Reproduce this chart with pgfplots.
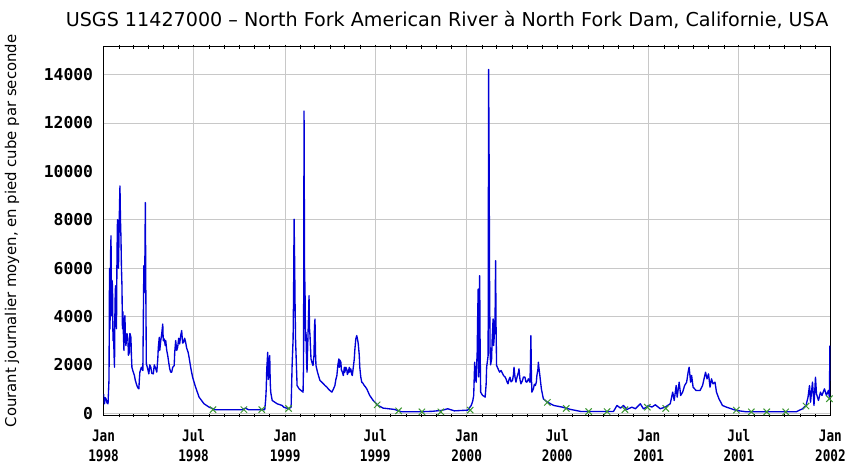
\documentclass[border=0pt]{standalone}
\usepackage{fontspec}
\setmainfont{DejaVu Sans}
\newfontfamily\tickfont{DejaVu Sans Mono}
\newfontfamily\xtickfont[FakeStretch=0.8]{DejaVu Sans Mono}
\usepackage{pgfplots}
\pgfplotsset{compat=1.18}
\definecolor{flowblue}{RGB}{0,0,215}
\definecolor{markgreen}{RGB}{60,150,50}
\definecolor{gridgray}{RGB}{200,200,200}
\begin{document}
\begin{tikzpicture}
\begin{axis}[
 scale only axis, width=730bp, height=370bp,
 xmin=0, xmax=1461, ymin=-80, ymax=15150,
 scaled ticks=false,
 grid=none,
 axis line style={black, line width=1.3bp},
 xtick={0,181,365,546,730,912,1096,1277,1461},
 xticklabels={{Jan\\1998},{Jul\\1998},{Jan\\1999},{Jul\\1999},{Jan\\2000},{Jul\\2000},{Jan\\2001},{Jul\\2001},{Jan\\2002}},
 xticklabel style={align=center, font=\xtickfont\bfseries\fontsize{16}{20}\selectfont, yshift=-11bp},
 major tick length=0pt,
 minor xtick={31,59,90,120,151,181,212,243,273,304,334,365,396,424,455,485,516,546,577,608,638,669,699,730,761,790,821,851,882,912,943,974,1004,1035,1065,1096,1127,1155,1186,1216,1247,1277,1308,1339,1369,1400,1430},
 minor tick length=4bp, tick align=center,
 minor tick style={black, line width=0.8bp},
 ytick={0,2000,4000,6000,8000,10000,12000,14000},
 yticklabels={0,2000,4000,6000,8000,10000,12000,14000},
 yticklabel style={font=\tickfont\bfseries\fontsize{16.5}{16.5}\selectfont, xshift=-7bp},
 title={USGS 11427000 – North Fork American River à North Fork Dam, Californie, USA},
 title style={at={(0.4726,1)}, anchor=base, yshift=14bp, font=\fontsize{19.3}{19.3}\selectfont},
 ylabel={Courant journalier moyen, en pied cube par seconde},
 ylabel style={at={(-0.126,0.5)}, anchor=center, font=\fontsize{15}{15}\selectfont},
]
\pgfplotsinvokeforeach{181,365,546,730,1096,1277}{\draw[gridgray, line width=0.9bp] (axis cs:#1,-80) -- (axis cs:#1,15150);}
\pgfplotsinvokeforeach{0,2000,4000,6000,8000,12000,14000}{\draw[gridgray, line width=0.9bp] (axis cs:0,#1) -- (axis cs:1461,#1);}
\addplot[flowblue, line width=1.35bp, line join=round] coordinates {
(0,804)(1,500)(2,392)(3,650)(5,598)(7,420)(9,392)(10,900)(11,1423)(12,5988)(13,3486)(14,6500)(15,7336)(16,4036)(17,5500)(18,5273)(19,3000)(20,3486)(21,2500)(22,1904)(23,4500)(24,5273)(25,4000)(26,3500)(27,6500)(28,8000)(29,7954)(30,6000)(31,7198)(32,8500)(33,9398)(34,8000)(35,7267)(36,6000)(37,5273)(38,3500)(39,4200)(40,3211)(41,2600)(42,3800)(43,4036)(44,3000)(45,2798)(47,3300)(49,3073)(50,2400)(52,2523)(53,3300)(55,3142)(56,2400)(57,1904)(59,1750)(62,1560)(64,1350)(67,1148)(69,1050)(71,1011)(72,1400)(73,1698)(76,1900)(79,1767)(80,4000)(81,6098)(82,5000)(83,6098)(84,8711)(85,5000)(86,2042)(88,1900)(91,1629)(93,2000)(95,1904)(97,1650)(100,1629)(102,2000)(105,1836)(107,1700)(109,2248)(110,2700)(112,3142)(113,2600)(115,3004)(117,3300)(119,3692)(120,3000)(122,3073)(124,2800)(125,3004)(127,2600)(129,2386)(131,2100)(133,1836)(135,1700)(137,1698)(139,1900)(142,1973)(143,2500)(145,3004)(147,2600)(149,2729)(151,3100)(153,2867)(155,3200)(157,3417)(159,2900)(161,2936)(163,3100)(165,2936)(167,2700)(170,2523)(172,2300)(174,2042)(176,1800)(179,1492)(185,1079)(192,667)(202,392)(212,254)(225,144)(279,144)(285,213)(292,144)(324,144)(326,600)(327,1011)(328,1800)(330,2523)(331,1400)(332,1698)(333,2200)(334,2386)(335,1300)(336,873)(339,529)(349,392)(359,323)(362,254)(372,186)(377,254)(379,1973)(381,3073)(382,5000)(383,8023)(384,6442)(385,4448)(386,3000)(387,2386)(389,1148)(393,1011)(397,942)(401,873)(402,1973)(403,12493)(404,6000)(405,4998)(406,3000)(407,3348)(408,2200)(409,1698)(410,2500)(411,3279)(412,4000)(413,4861)(414,3500)(415,3211)(416,2700)(417,2248)(419,2100)(421,1973)(423,2400)(424,3600)(425,3898)(426,2500)(427,1973)(430,1700)(432,1560)(435,1354)(438,1300)(442,1217)(445,1150)(449,1079)(452,1000)(455,942)(459,873)(462,1000)(465,1148)(467,1400)(469,1560)(471,2000)(473,2248)(474,1900)(475,2200)(477,2111)(478,1800)(480,1700)(482,1560)(484,1900)(485,1700)(487,1904)(489,1800)(490,1600)(492,1698)(494,1900)(495,1700)(497,1836)(499,1600)(500,1560)(502,1900)(504,2248)(505,2600)(507,3073)(509,3211)(511,3000)(512,2867)(514,2400)(515,1904)(517,1500)(519,1286)(521,1250)(524,1148)(526,1100)(529,1011)(535,736)(542,529)(552,323)(562,213)(585,158)(599,60)(632,60)(660,80)(679,117)(692,186)(705,100)(732,130)(739,323)(742,500)(744,736)(746,2111)(747,1500)(749,1286)(750,2000)(751,2523)(752,4000)(753,5136)(754,1500)(755,3000)(756,5686)(757,2500)(758,873)(760,800)(762,736)(765,700)(767,667)(769,1200)(770,1904)(773,2386)(774,14211)(775,10361)(776,5000)(777,2523)(778,2000)(780,2248)(781,3000)(783,3898)(784,2800)(785,3073)(787,4000)(788,6305)(789,3500)(790,1973)(793,1836)(796,1700)(799,1767)(802,1650)(804,1560)(807,1500)(809,1423)(811,1300)(813,1217)(815,1400)(817,1492)(819,1300)(822,1354)(824,1600)(825,1904)(827,1500)(829,1286)(830,1400)(832,1560)(834,1700)(835,1836)(837,1400)(839,1217)(842,1354)(844,1500)(847,1492)(849,1300)(851,1286)(854,1423)(857,1286)(858,2000)(859,3211)(860,1500)(861,873)(864,1011)(866,1200)(868,1148)(870,1300)(871,1560)(873,1800)(874,2111)(875,1900)(877,1560)(880,1011)(884,598)(892,461)(905,323)(922,254)(939,158)(959,76)(1005,76)(1025,76)(1032,323)(1039,213)(1045,323)(1052,158)(1062,254)(1069,186)(1079,392)(1085,186)(1092,254)(1095,323)(1102,254)(1109,351)(1119,186)(1129,254)(1139,392)(1144,873)(1147,529)(1151,1148)(1153,667)(1157,1286)(1160,736)(1164,873)(1168,1148)(1172,1286)(1175,1698)(1177,1904)(1180,1286)(1182,1560)(1185,1079)(1191,942)(1199,942)(1204,1148)(1207,1423)(1210,1698)(1213,1423)(1216,1629)(1219,1079)(1222,1423)(1225,1217)(1229,1286)(1232,873)(1237,598)(1244,323)(1252,254)(1262,186)(1272,117)(1292,60)(1339,60)(1392,60)(1405,186)(1412,323)(1416,667)(1419,1148)(1421,461)(1425,1286)(1428,323)(1431,1492)(1433,804)(1437,529)(1441,873)(1444,736)(1449,1011)(1453,736)(1457,942)(1459,667)(1460,2800)
};
\addplot[only marks, mark=x, mark size=4.5bp, markgreen, mark options={line width=1bp}] coordinates {
(220,150)(282,150)(318,150)(372,200)(550,350)(593,100)(640,60)(678,60)(737,130)(892,450)(930,200)(975,70)(1012,70)(1048,150)(1093,250)(1130,200)(1272,130)(1302,60)(1333,60)(1371,60)(1412,300)(1459,600)
};
\end{axis}
\path (current axis.south west) ++(-104bp,-53bp) rectangle ++(849bp,470bp);
\end{tikzpicture}
\end{document}
